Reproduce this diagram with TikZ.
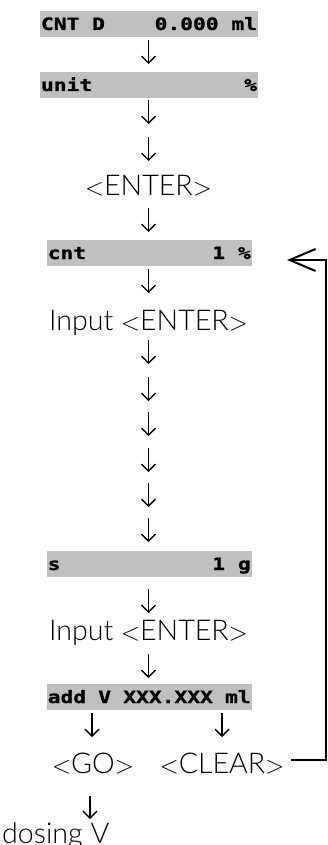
\documentclass[tikz,border=0pt]{standalone}
\usepackage{fontspec}
\setmainfont{Lato}[UprightFont={* Light}]
\newfontfamily\lcd{DejaVu Sans Mono}[UprightFont={* Bold}, FakeStretch=1.25, FakeBold=1.2]
\newcommand{\lt}{$<$}
\newcommand{\gt}{$>$}
\usetikzlibrary{arrows.meta}
\definecolor{lcdgray}{RGB}{192,192,192}
\tikzset{
  lcdbox/.style={fill=lcdgray, inner xsep=1pt, inner ysep=0pt, minimum height=26pt,
    text height=12pt, text depth=0pt, font=\lcd\fontsize{17}{18}\selectfont},
  label/.style={anchor=base, inner sep=0pt, font=\fontsize{28.6}{30}\selectfont},
  glyph/.style={line width=1.3pt, -{Straight Barb[length=7pt,width=14pt]}},
  loopline/.style={line width=2pt, -{Straight Barb[length=26pt,width=22pt]}}
}
\begin{document}
\begin{tikzpicture}[x=1pt,y=-1pt]
\useasboundingbox (0,0) rectangle (328,845);
% display boxes
\node[lcdbox] (b1) at (149,24) {\hbox to 216pt{CNT D\hfill 0.000 ml}};
\node[lcdbox] (b2) at (149,85) {\hbox to 216pt{unit\hfill \%}};
\node[label] (enter) at (148.5,196) {\lt ENTER\gt};
\node[lcdbox] (cnt) at (149.2,253) {\hbox to 203pt{cnt\hfill 1 \%}};
\node[label] (in1) at (148.5,330) {Input \lt ENTER\gt};
\node[lcdbox] (sbox) at (149.2,564) {\hbox to 203pt{s\hfill 1 g}};
\node[label] (in2) at (148.5,640) {Input \lt ENTER\gt};
\node[lcdbox] (add) at (149.2,697) {\hbox to 203pt{add V XXX.XXX ml}};
\node[label] (go) at (93,773) {\lt GO\gt};
\node[label] (clear) at (222,773) {\lt CLEAR\gt};
\node[label, anchor=base west] (dosing) at (2,843) {dosing V};
% glyph arrows of the main column
\foreach \y in {40,100,137,208,269,340,377,412,448,483,518,589,654}
  \draw[glyph] (148.5,\y) -- ++(0,24);
\draw[glyph] (92,713) -- ++(0,24);
\draw[glyph] (222,713) -- ++(0,24);
\draw[glyph] (90,796) -- ++(0,23);
% loop back
\coordinate (rightx) at (326,0);
\coordinate (looptip) at (287,260);
\draw[loopline] ([xshift=7pt,yshift=13pt]clear.base east) -| (rightx |- looptip) -- (looptip);
\end{tikzpicture}
\end{document}
